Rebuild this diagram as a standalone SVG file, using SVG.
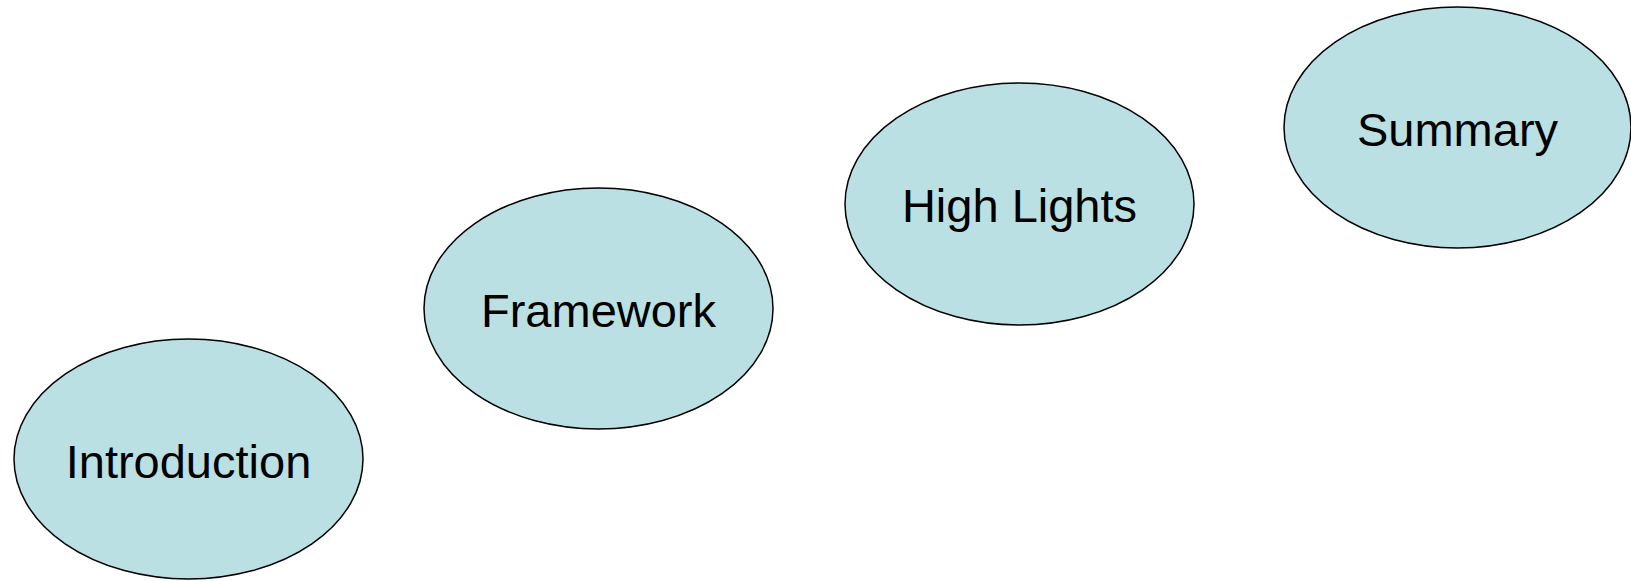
<svg xmlns="http://www.w3.org/2000/svg" width="1631" height="581" viewBox="0 0 1631 581">
<style>
.node ellipse{fill:#BAE0E4;stroke:#000;stroke-width:1.5}
.node text{font-family:"Liberation Sans",Arial,sans-serif;font-size:47px;fill:#000;text-anchor:middle}
</style>
<rect width="1631" height="581" fill="#fff"/>
<g id="connectors"></g>
<g id="introduction" class="node"><ellipse cx="188.5" cy="459" rx="174.5" ry="120"/><text x="188.5" y="477.5">Introduction</text></g>
<g id="framework" class="node"><ellipse cx="598.5" cy="308.5" rx="174.5" ry="120.5"/><text x="598.5" y="327">Framework</text></g>
<g id="highlights" class="node"><ellipse cx="1019.5" cy="204" rx="174.5" ry="121"/><text x="1019.5" y="222">High Lights</text></g>
<g id="summary" class="node"><ellipse cx="1457.5" cy="127.5" rx="173.5" ry="120.5"/><text x="1457.5" y="146">Summary</text></g>
</svg>
